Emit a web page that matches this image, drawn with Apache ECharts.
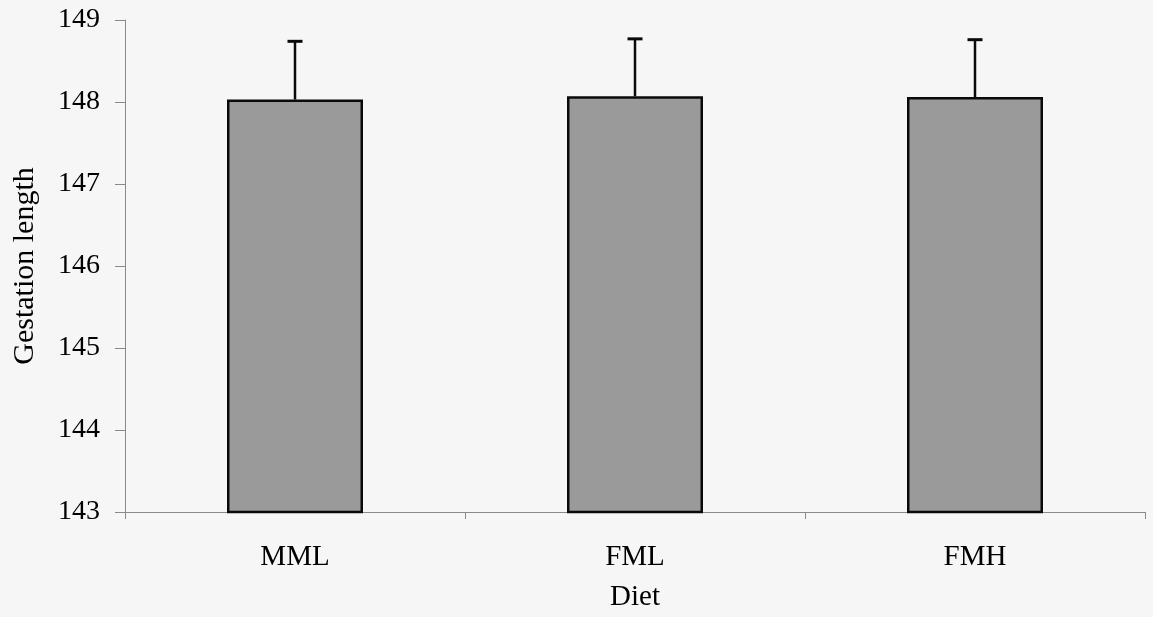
<!DOCTYPE html>
<html>
<head>
<meta charset="utf-8">
<script src="https://cdn.jsdelivr.net/npm/echarts@6/dist/echarts.min.js"></script>
<style>
html,body{margin:0;padding:0;background:#f6f6f6;}
#chart{width:1153px;height:617px;}
</style>
</head>
<body>
<div id="chart"></div>
<script>
const categories = ['MML', 'FML', 'FMH'];
const means = [148.03, 148.07, 148.06];
const errors = [0.71, 0.70, 0.70];
const yTicks = [143, 144, 145, 146, 147, 148, 149];

const chart = echarts.init(document.getElementById('chart'));
const font = '"Liberation Serif", "Times New Roman", serif';

const errData = categories.map((c, i) => [i, means[i], errors[i]]);

chart.setOption({
  backgroundColor: '#f6f6f6',
  animation: false,
  grid: { left: 125, right: 8, top: 20, bottom: 101, containLabel: false },
  xAxis: {
    type: 'category',
    data: categories,
    name: 'Diet',
    nameLocation: 'middle',
    nameGap: 71,
    nameTextStyle: { fontFamily: font, fontSize: 29, color: '#000' },
    axisLine: { lineStyle: { color: '#8a8a8a', width: 1 } },
    axisTick: { show: true, length: 7, lineStyle: { color: '#8a8a8a' } },
    axisLabel: { fontFamily: font, fontSize: 29, color: '#000', margin: 31 }
  },
  yAxis: {
    type: 'value',
    min: yTicks[0],
    max: yTicks[yTicks.length - 1],
    interval: 1,
    name: 'Gestation length',
    nameLocation: 'middle',
    nameGap: 85,
    nameRotate: 90,
    nameTextStyle: { fontFamily: font, fontSize: 30, color: '#000', padding: [0, 0, 0, 0] },
    axisLine: { show: true, lineStyle: { color: '#8a8a8a', width: 1 } },
    axisTick: { show: true, length: 10, lineStyle: { color: '#8a8a8a' } },
    splitLine: { show: false },
    axisLabel: { fontFamily: font, fontSize: 28, color: '#000', margin: 25 }
  },
  series: [
    {
      type: 'bar',
      data: means,
      barWidth: '40%',
      itemStyle: { color: '#9a9a9a', borderColor: '#0a0a0a', borderWidth: 2.5 }
    },
    {
      type: 'custom',
      data: errData,
      z: 5,
      renderItem: function (params, api) {
        const x = api.value(0);
        const m = api.value(1);
        const e = api.value(2);
        const p0 = api.coord([x, m]);
        const p1 = api.coord([x, m + e]);
        const half = 7.5;
        return {
          type: 'group',
          children: [
            { type: 'line', shape: { x1: p0[0], y1: p0[1], x2: p1[0], y2: p1[1] }, style: { stroke: '#0a0a0a', lineWidth: 2.5 } },
            { type: 'line', shape: { x1: p1[0] - half, y1: p1[1], x2: p1[0] + half, y2: p1[1] }, style: { stroke: '#0a0a0a', lineWidth: 3 } }
          ]
        };
      }
    }
  ]
});
</script>
</body>
</html>
